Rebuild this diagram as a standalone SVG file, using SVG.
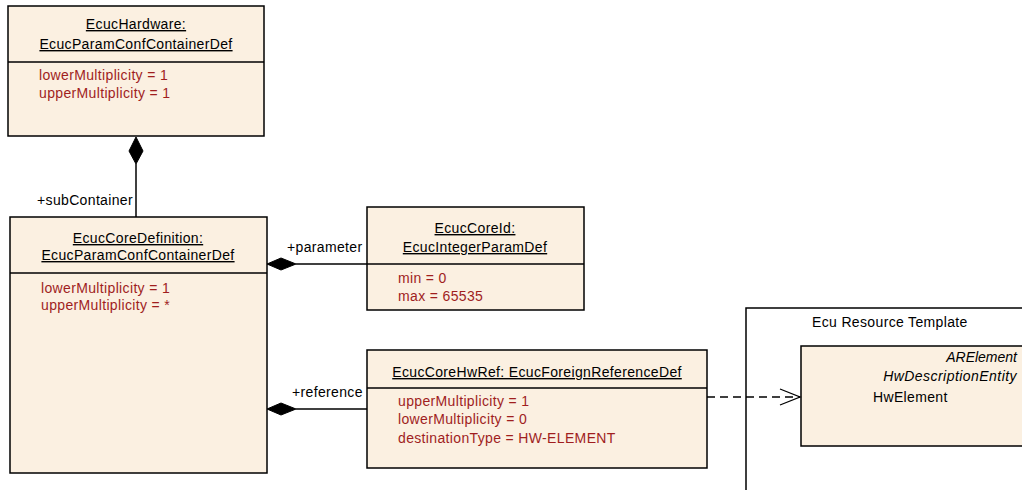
<svg xmlns="http://www.w3.org/2000/svg" width="1022" height="490" viewBox="0 0 1022 490">
<style>
.box{fill:#FBF0E1;stroke:#000;stroke-width:1.5}
.sep{stroke:#000;stroke-width:1.5}
text{font-family:"Liberation Sans",Arial,sans-serif;font-size:14px;letter-spacing:0.35px}
.t{fill:#000;text-anchor:middle;text-decoration:underline}
.a{fill:#A01E1E}
.l{fill:#000}
.i{font-style:italic;text-anchor:end}
.line{stroke:#000;stroke-width:1.5;fill:none}
</style>
<defs>
<marker id="open" markerWidth="24" markerHeight="20" refX="21" refY="9" orient="auto" markerUnits="userSpaceOnUse">
<path d="M1,1 L21,9 L1,17" fill="none" stroke="#000" stroke-width="1.3"/>
</marker>
</defs>
<g id="pkg-ecu-resource-template">
<path d="M746,490 L746,308 L1030,308" class="line"/>
<text x="812" y="327" class="l">Ecu Resource Template</text>
</g>
<g id="node-ecuchardware">
<rect x="8" y="6" width="256" height="130" class="box"/>
<line x1="8" y1="62" x2="264" y2="62" class="sep"/>
<text x="136" y="29" class="t">EcucHardware:</text>
<text x="136" y="49" class="t">EcucParamConfContainerDef</text>
<text x="39" y="80" class="a">lowerMultiplicity = 1</text>
<text x="39" y="98" class="a">upperMultiplicity = 1</text>
</g>
<g id="node-ecuccoredefinition">
<rect x="10" y="217" width="257" height="256" class="box"/>
<line x1="10" y1="273" x2="267" y2="273" class="sep"/>
<text x="138" y="243" class="t">EcucCoreDefinition:</text>
<text x="138" y="260" class="t">EcucParamConfContainerDef</text>
<text x="41" y="293" class="a">lowerMultiplicity = 1</text>
<text x="41" y="310" class="a">upperMultiplicity = *</text>
</g>
<g id="node-ecuccoreid">
<rect x="367" y="207" width="217" height="103" class="box"/>
<line x1="367" y1="264" x2="584" y2="264" class="sep"/>
<text x="475" y="233" class="t">EcucCoreId:</text>
<text x="475" y="252" class="t">EcucIntegerParamDef</text>
<text x="398" y="283" class="a">min = 0</text>
<text x="398" y="301" class="a">max = 65535</text>
</g>
<g id="node-ecuccorehwref">
<rect x="367" y="350" width="340" height="118" class="box"/>
<line x1="367" y1="388" x2="707" y2="388" class="sep"/>
<text x="537" y="377" class="t">EcucCoreHwRef: EcucForeignReferenceDef</text>
<text x="398" y="406" class="a">upperMultiplicity = 1</text>
<text x="398" y="424" class="a">lowerMultiplicity = 0</text>
<text x="398" y="443" class="a">destinationType = HW-ELEMENT</text>
</g>
<g id="node-hwelement">
<rect x="801" y="346" width="230" height="100" class="box"/>
<text x="1017" y="362" class="l i" style="letter-spacing:0">ARElement</text>
<text x="1017" y="381" class="l i" style="letter-spacing:0.45px">HwDescriptionEntity</text>
<text x="873" y="402" class="l">HwElement</text>
</g>
<g id="connectors">
<path d="M136,217 L136,164" class="line"/>
<path d="M136,137 L143,151 L136,164 L129,151 Z" fill="#000" stroke="#000"/>
<text x="37" y="205" class="l">+subContainer</text>
<path d="M296,264 L367,264" class="line"/>
<path d="M267,264 L281,258 L296,264 L281,270 Z" fill="#000" stroke="#000"/>
<text x="287" y="252" class="l">+parameter</text>
<path d="M296,409 L367,409" class="line"/>
<path d="M267,409 L281,403 L296,409 L281,415 Z" fill="#000" stroke="#000"/>
<text x="292" y="397" class="l">+reference</text>
<path d="M707,397 L800,397" class="line" stroke-dasharray="8,5" marker-end="url(#open)"/>
</g>
</svg>
